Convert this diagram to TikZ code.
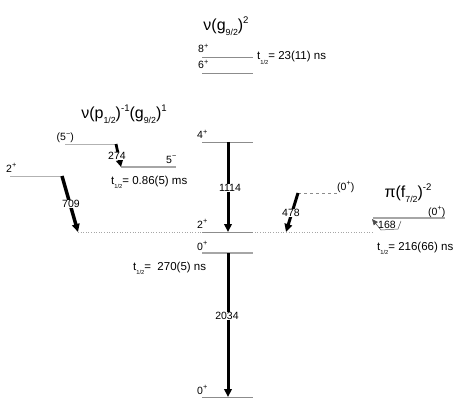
\documentclass[tikz,border=0pt]{standalone}
\usepackage{fontspec}
\setmainfont{Liberation Sans}
\usepackage{graphicx}
\usetikzlibrary{arrows.meta}
\newcommand{\lo}[1]{\raisebox{-0.55ex}{\scalebox{0.55}{#1}}}
\newcommand{\hi}[1]{\raisebox{0.9ex}{\scalebox{0.6}{#1}}}
\newcommand{\jp}[1]{\raisebox{0.85ex}{\scalebox{0.7}{#1}}}
\newcommand{\thalf}{t\raisebox{-0.75ex}{\scalebox{0.5}{1/2}}}
\begin{document}
\begin{tikzpicture}[x=1pt,y=-1pt,
  lev/.style={draw=black!45, line width=0.6pt},
  levl/.style={draw=black!30, line width=0.6pt},
  levb/.style={draw=black!35, line width=1.3pt},
  trans/.style={line width=3pt, -{Triangle[width=7.5pt,length=8pt]}},
  elab/.style={fill=white, inner sep=0.6pt, font=\fontsize{10.5}{12}\selectfont},
  jlab/.style={inner sep=0pt, font=\fontsize{10.5}{12}\selectfont},
  tlab/.style={inner sep=0pt, font=\fontsize{11.5}{13}\selectfont, anchor=base west},
  ttl/.style={inner sep=0pt, font=\fontsize{16}{18}\selectfont}]
\useasboundingbox (0,0) rectangle (463,409);

% coordinates of levels
\coordinate (l8a) at (202,57);  \coordinate (l8b) at (253,57);
\coordinate (l6a) at (202,73);  \coordinate (l6b) at (253,73);
\coordinate (l4a) at (202,142); \coordinate (l4b) at (253,142);
\coordinate (l2a) at (202,232); \coordinate (l2b) at (253,232);
\coordinate (l0a) at (202,253); \coordinate (l0b) at (253,253);
\coordinate (lga) at (202,397); \coordinate (lgb) at (253,397);
\coordinate (a4) at (228,142);  \coordinate (a2) at (228,232);
\coordinate (a0) at (228,253);  \coordinate (ag) at (228,397);
\coordinate (d1) at (78,232);   \coordinate (d2) at (372,232);
\coordinate (p5a) at (65,144);  \coordinate (p5b) at (116,144);
\coordinate (q5a) at (121,167); \coordinate (q5b) at (176,167);
\coordinate (l2La) at (10,176); \coordinate (l2Lb) at (62,176);
\coordinate (r0a) at (298,193); \coordinate (r0b) at (337,193);
\coordinate (r478) at (286,232);
\coordinate (s0a) at (373,218); \coordinate (s0b) at (445,218);
\coordinate (b1) at (401,221);  \coordinate (b2) at (398,229);
\coordinate (b3) at (381,230);  \coordinate (b4) at (372,219);

% dotted 2+ band
\draw[black!35, line width=0.6pt, dotted] (d1) -- (d2);

% levels
\draw[lev] (l8a) -- (l8b);
\draw[lev] (l6a) -- (l6b);
\draw[lev] (l4a) -- (l4b);
\draw[lev] (l2a) -- (l2b);
\draw[levb] (l0a) -- (l0b);
\draw[lev] (lga) -- (lgb);
\draw[levl] (p5a) -- (p5b);
\draw[levb] (q5a) -- (q5b);
\draw[levl] (l2La) -- (l2Lb);
\draw[black!45, line width=0.9pt, dashed] (r0a) -- (r0b);
\draw[levb] (s0a) -- (s0b);

% transitions
\draw[trans] (a4) -- (a2);
\draw[trans] (a0) -- (ag);
\draw[trans, line width=3.5pt] (l2Lb) -- (d1);
\draw[trans, line width=2.8pt, -{Triangle[width=7pt,length=7pt]}] (p5b) -- (q5a);
\draw[trans, line width=3pt] (r0a) -- (r478);
\draw[black!70, line width=0.5pt, -{Triangle[width=5pt,length=6pt]}] (b1) -- (b2) -- (b3) -- (b4);

% energy labels
\node[elab] (e1114) at (230,188) {1114};
\node[elab] (e2034) at (227,316) {2034};
\node[elab] (e709) at (71,204) {709};
\node[elab] (e274) at (117,156) {274};
\node[elab] (e478) at (291,213) {478};
\node[elab, fill=none] (e168) at (387,225) {168};

% spin labels
\node[jlab, anchor=base west] (j8) at (198,53) {8\jp{+}};
\node[jlab, anchor=base west] (j6) at (198,69) {6\jp{+}};
\node[jlab, anchor=base west] (j4) at (197,139) {4\jp{+}};
\node[jlab, anchor=base west] (j2) at (197,228) {2\jp{+}};
\node[jlab, anchor=base west] (j0) at (197,250) {0\jp{+}};
\node[jlab, anchor=base west] (jg) at (197,394) {0\jp{+}};
\node[jlab, anchor=base east] (j5p) at (74,141) {(5\jp{−})};
\node[jlab, anchor=base west] (j5) at (166,163) {5\jp{−}};
\node[jlab, anchor=base west] (j2L) at (6,172) {2\jp{+}};
\node[jlab, anchor=base west] (j0d) at (337,190) {(0\jp{+})};
\node[jlab, anchor=base west] (j0r) at (428,215) {(0\jp{+})};

% half-lives
\node[tlab] (t8) at (257,60) {\thalf= 23(11) ns};
\node[tlab] (t5) at (111,184) {\thalf= 0.86(5) ms};
\node[tlab] (t0) at (133,270) {\thalf=~ 270(5) ns};
\node[tlab] (tr) at (377,250) {\thalf= 216(66) ns};

% configuration titles
\node[ttl] (c1) at (226,26) {ν(g\lo{9/2})\hi{2}};
\node[ttl] (c2) at (124,114) {ν(p\lo{1/2})\hi{-1}(g\lo{9/2})\hi{1}};
\node[ttl] (c3) at (408,193) {π(f\lo{7/2})\hi{-2}};
\end{tikzpicture}
\end{document}
